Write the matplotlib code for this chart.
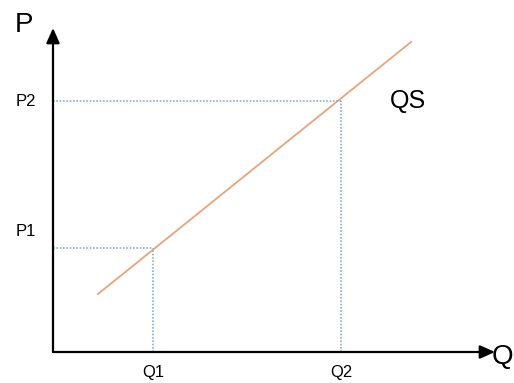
import matplotlib.pyplot as plt

plt.rcParams['font.family'] = ['Liberation Sans', 'DejaVu Sans']

# supply curve endpoints and the two marked points (chart units, origin at axes corner)
qs_q = [45, 358]
qs_p = [58, 310]
q_marks = [100, 288]
p_marks = [104, 251]
q_labels = ["Q1", "Q2"]
p_labels = ["P1", "P2"]

fig = plt.figure(figsize=(5.14, 3.83), dpi=100)
ax = fig.add_axes([0, 0, 1, 1])
ax.set_xlim(-53, 461)
ax.set_ylim(-31, 352)
ax.axis("off")

# axes with arrows
arrow = dict(arrowstyle="-|>,head_length=0.9,head_width=0.4", color="black", lw=1.6,
             shrinkA=0, shrinkB=0)
ax.annotate("", xy=(442, 0), xytext=(0, 0), arrowprops=arrow)
ax.annotate("", xy=(0, 324), xytext=(0, 0), arrowprops=arrow)
ax.text(-29, 327, "P", fontsize=20, ha="center", va="center")
ax.text(449, -5, "Q", fontsize=20, ha="center", va="center")

# supply line
ax.plot(qs_q, qs_p, color="#E8A47A", lw=1.3)
ax.text(355, 251, "QS", fontsize=18, ha="center", va="center")

# dotted guides
for q, p, ql, pl, dy in zip(q_marks, p_marks, q_labels, p_labels, [16, 0]):
    ax.plot([0, q], [p, p], color="#7FB0DA", lw=1.2, ls=(0, (1, 1)))
    ax.plot([q, q], [0, p], color="#7FB0DA", lw=1.2, ls=(0, (1, 1)))
    ax.text(q, -21, ql, fontsize=12, ha="center", va="center")
    ax.text(-27, p + dy, pl, fontsize=12, ha="center", va="center")

fig.savefig("out.png", dpi=100)
